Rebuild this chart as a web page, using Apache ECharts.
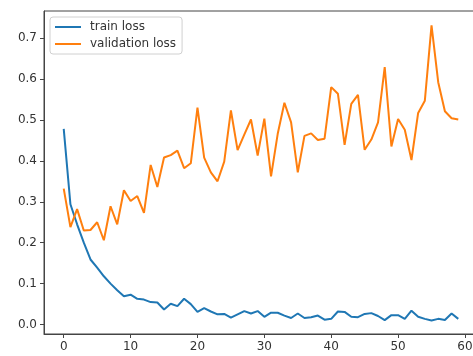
<!DOCTYPE html>
<html>
<head>
<meta charset="utf-8">
<script src="https://cdn.jsdelivr.net/npm/echarts@6/dist/echarts.min.js"></script>
<style>html,body{margin:0;padding:0;background:#fff;}#c{width:473px;height:356px;}</style>
</head>
<body>
<div id="c"></div>
<script>
const trainLoss = [0.478,0.294,0.245,0.200,0.159,0.139,0.118,0.100,0.084,0.069,
  0.073,0.063,0.061,0.055,0.054,0.037,0.051,0.045,0.063,0.050,
  0.031,0.040,0.032,0.025,0.026,0.017,0.025,0.033,0.027,0.033,
  0.019,0.029,0.029,0.022,0.016,0.027,0.016,0.018,0.022,0.012,
  0.014,0.032,0.031,0.019,0.018,0.026,0.028,0.021,0.011,0.023,
  0.023,0.014,0.034,0.019,0.014,0.010,0.014,0.011,0.027,0.014];
const valLoss = [0.332,0.238,0.282,0.230,0.231,0.250,0.206,0.289,0.245,0.328,
  0.302,0.314,0.273,0.390,0.336,0.408,0.414,0.425,0.382,0.394,
  0.530,0.408,0.372,0.350,0.398,0.523,0.426,0.464,0.501,0.413,
  0.503,0.362,0.466,0.542,0.494,0.372,0.461,0.467,0.451,0.454,
  0.580,0.564,0.439,0.539,0.561,0.427,0.452,0.494,0.629,0.435,
  0.502,0.476,0.402,0.517,0.547,0.731,0.592,0.521,0.504,0.501];
const xTicks = [0,10,20,30,40,50,60];
const yTicks = [0,0.1,0.2,0.3,0.4,0.5,0.6,0.7];

const toPairs = arr => arr.map((v,i)=>[i,v]);
const font = 'DejaVu Sans';
const chart = echarts.init(document.getElementById('c'), null, {renderer:'canvas'});
chart.setOption({
  animation:false,
  backgroundColor:'#fff',
  grid:{left:44, top:11, width:434, height:323, show:true, borderColor:'#444', borderWidth:1,
        backgroundColor:'transparent', containLabel:false, outerBoundsMode:'none'},
  legend:{
    orient:'vertical', left:50, top:17,
    padding:[3,6,3,5], itemGap:3,
    itemWidth:26, itemHeight:2, icon:'rect',
    backgroundColor:'rgba(255,255,255,0.8)', borderColor:'#d0d0d0', borderWidth:1, borderRadius:3,
    textStyle:{fontFamily:font, fontSize:12, color:'#333', lineHeight:14, padding:[0,0,0,4]},
    data:['train loss','validation loss']
  },
  xAxis:{
    type:'value', min:-2.95, max:61.95,
    axisLine:{show:true, onZero:false, lineStyle:{color:'#444', width:1}},
    splitLine:{show:false},
    axisTick:{show:true, inside:false, length:4, lineStyle:{color:'#444'}, customValues:xTicks},
    axisLabel:{customValues:xTicks, fontFamily:font, fontSize:12, color:'#333', margin:7}
  },
  yAxis:{
    type:'value', min:-0.023, max:0.766,
    axisLine:{show:true, onZero:false, lineStyle:{color:'#444', width:1}},
    splitLine:{show:false},
    axisTick:{show:true, inside:false, length:4, lineStyle:{color:'#444'}, customValues:yTicks},
    axisLabel:{customValues:yTicks, fontFamily:font, fontSize:12, color:'#333', margin:7,
      formatter:v=>v.toFixed(1)}
  },
  series:[
    {name:'train loss', type:'line', data:toPairs(trainLoss), showSymbol:false, symbol:'none',
     lineStyle:{color:'#1f77b4', width:2}, itemStyle:{color:'#1f77b4'}},
    {name:'validation loss', type:'line', data:toPairs(valLoss), showSymbol:false, symbol:'none',
     lineStyle:{color:'#ff7f0e', width:2}, itemStyle:{color:'#ff7f0e'}}
  ]
});
</script>
</body>
</html>
